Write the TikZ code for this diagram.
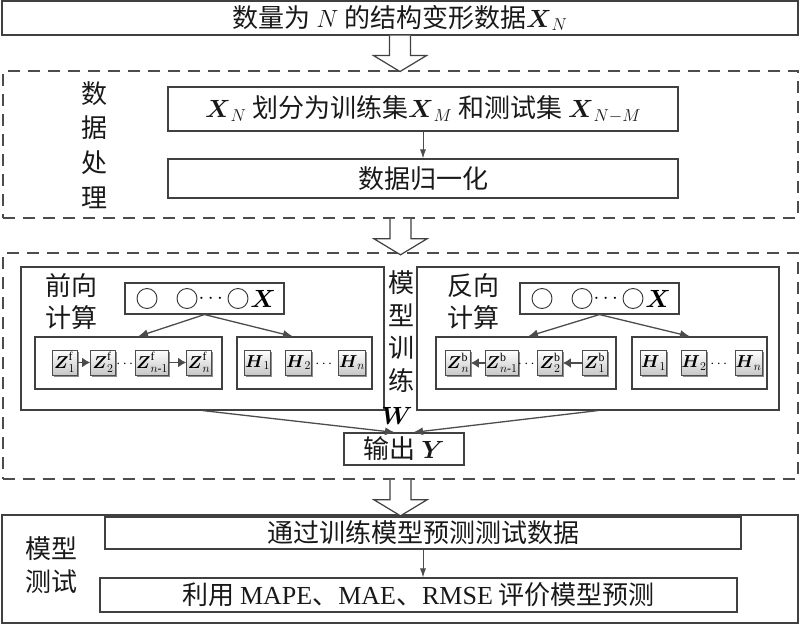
\documentclass[tikz,border=0pt]{standalone}
\usepackage{amsmath,amssymb}
\usepackage{fontspec}
\setmainfont{Liberation Serif}
\newfontfamily\zh{Noto Sans CJK SC}
\usetikzlibrary{positioning, arrows.meta, shadows}
\tikzset{
x=1pt, y=-1pt, % image pixels, y going down
procbox/.style={rectangle, draw=black!75, line width=1.1pt, inner sep=0pt, text=black!90, font=\zh\fontsize{26}{34}\selectfont},
dashgroup/.style={rectangle, draw=black!70, line width=1.6pt, dash pattern=on 12pt off 8pt, inner sep=0pt},
cell/.style={rectangle, draw=black!70, line width=0.9pt, minimum size=25pt, inner sep=0.5pt, top color=white, bottom color=black!22, drop shadow={shadow xshift=1.6pt, shadow yshift=-1.6pt, fill=black!45, opacity=1}, font=\fontsize{17}{17}\selectfont},
ring/.style={circle, draw=black!80, line width=0.9pt, minimum size=20pt, inner sep=0pt},
sidetext/.style={align=center, inner sep=0pt, text=black!90},
flowarrow/.style={-{Latex[length=10pt,width=8pt]}, draw=black!70, line width=1.3pt},
linkarrow/.style={-{Latex[length=8pt,width=10pt]}, draw=black!70, line width=1.3pt},
thinarrow/.style={-{Latex[length=9pt,width=6pt]}, draw=black!70, line width=0.9pt},
bigarrow/.pic={\draw[draw=black!75, line width=1.2pt, fill=white] (-10.5,0) -- (-10.5,20) -- (-26.5,20) -- (0,36) -- (26.5,20) -- (10.5,20) -- (10.5,0);},
}

\begin{document}
\begin{tikzpicture}
\useasboundingbox (0,0) rectangle (800,624);

% data
\node[procbox, minimum width=796, minimum height=34] (data) at (400,18) {数量为 $N$ 的结构变形数据$\boldsymbol{X}_N$};

% data processing
\node[dashgroup, minimum width=795, minimum height=147] (prep) at (400.5,144.5) {};
\node[sidetext, font=\zh\fontsize{26}{34.7}\selectfont] (prepname) at (94.5,145) {数\\据\\处\\理};
\node[procbox, minimum width=510, minimum height=44] (split) at (423,109) {$\boldsymbol{X}_N$ 划分为训练集$\boldsymbol{X}_M$ 和测试集 $\boldsymbol{X}_{N-M}$};
\node[procbox, minimum width=510, minimum height=39] (norm) at (423,178.5) {数据归一化};
\draw[thinarrow] (split) -- (norm);

\pic at (data.south) {bigarrow};

% model training
\node[dashgroup, minimum width=795, minimum height=226] (train) at (400.5,366) {};
\pic at (prep.south) {bigarrow};
\node[sidetext, font=\zh\fontsize{26}{32.5}\selectfont] (trainname) at (401.5,331.5) {模\\型\\训\\练};

\node[procbox, minimum width=363, minimum height=143] (fwd) at (202.5,338.5) {};
\node[procbox, minimum width=362, minimum height=143] (bwd) at (598,338.5) {};
\node[sidetext, font=\zh\fontsize{26}{32}\selectfont] (fwdname) at (71,302) {前向\\计算};
\node[sidetext, font=\zh\fontsize{26}{32}\selectfont] (bwdname) at (473.5,302) {反向\\计算};

% inputs
\node[procbox, minimum width=159, minimum height=31] (fx) at (204.5,298.5) {};
\node[ring] (fx1) at (147,298.5) {};
\node[ring] (fx2) at (187,298.5) {};
\node[ring] (fx3) at (238,298.5) {};
\node[font=\fontsize{22}{22}\selectfont, inner sep=0pt] (fxdots) at (212.5,299) {$\cdots$};
\node[font=\fontsize{25}{25}\selectfont, inner sep=0pt] (fxname) at (263,298.5) {$\boldsymbol{X}$};

\node[procbox, minimum width=159, minimum height=31] (bx) at (599.5,298.5) {};
\node[ring] (bx1) at (542,298.5) {};
\node[ring] (bx2) at (582,298.5) {};
\node[ring] (bx3) at (633,298.5) {};
\node[font=\fontsize{22}{22}\selectfont, inner sep=0pt] (bxdots) at (607.5,299) {$\cdots$};
\node[font=\fontsize{25}{25}\selectfont, inner sep=0pt] (bxname) at (658,298.5) {$\boldsymbol{X}$};

% hidden states
\node[procbox, minimum width=187, minimum height=52] (zf) at (128.5,363) {};
\node[procbox, minimum width=135, minimum height=52] (hf) at (304.5,363) {};
\node[procbox, minimum width=180, minimum height=52] (zb) at (526,363) {};
\node[procbox, minimum width=135, minimum height=52] (hb) at (699.5,363) {};

\node[cell] (zf1) at (64.5,362.5) {$\boldsymbol{Z}^{\mathrm{f}}_1$};
\node[cell] (zf2) at (103,362.5) {$\boldsymbol{Z}^{\mathrm{f}}_2$};
\node[cell] (zfm) at (152,362.5) {$\boldsymbol{Z}^{\mathrm{f}}_{n\text{-}1}$};
\node[cell] (zfn) at (199,362.5) {$\boldsymbol{Z}^{\mathrm{f}}_n$};
\node[font=\fontsize{15}{15}\selectfont, inner sep=0pt] (zfdots) at (126,364) {$\cdots$};
\node[cell] (hf1) at (257.5,362.5) {$\boldsymbol{H}_1$};
\node[cell] (hf2) at (298.5,362.5) {$\boldsymbol{H}_2$};
\node[cell] (hfn) at (352,362.5) {$\boldsymbol{H}_n$};
\node[font=\fontsize{15}{15}\selectfont, inner sep=0pt] (hfdots) at (325,364) {$\cdots$};

\node[cell] (zbn) at (458,363) {$\boldsymbol{Z}^{\mathrm{b}}_n$};
\node[cell] (zbm) at (501.5,363) {$\boldsymbol{Z}^{\mathrm{b}}_{n\text{-}1}$};
\node[cell] (zb2) at (550,363) {$\boldsymbol{Z}^{\mathrm{b}}_2$};
\node[cell] (zb1) at (594.5,363) {$\boldsymbol{Z}^{\mathrm{b}}_1$};
\node[font=\fontsize{15}{15}\selectfont, inner sep=0pt] (zbdots) at (527.5,364.5) {$\cdots$};
\node[cell] (hb1) at (653.5,363) {$\boldsymbol{H}_1$};
\node[cell] (hb2) at (694,363) {$\boldsymbol{H}_2$};
\node[cell] (hbn) at (748.5,363) {$\boldsymbol{H}_n$};
\node[font=\fontsize{15}{15}\selectfont, inner sep=0pt] (hbdots) at (720,364.5) {$\cdots$};

\draw[linkarrow] (zf1) -- (zf2);
\draw[linkarrow] (zfm) -- (zfn);
\draw[linkarrow] (zbm) -- (zbn);
\draw[linkarrow] (zb1) -- (zb2);

\draw[flowarrow] (fx.south) -- ([xshift=9.5pt]zf.north);
\draw[flowarrow] (fx.south) -- ([xshift=-11.5pt]hf.north);
\draw[flowarrow] (bx.south) -- ([xshift=2pt]zb.north);
\draw[flowarrow] (bx.south) -- ([xshift=-9.5pt]hb.north);

% output
\node[procbox, minimum width=120, minimum height=32] (out) at (404,449) {输出 $\boldsymbol{Y}$};
\node[font=\fontsize{26}{26}\selectfont, inner sep=0pt] (wname) at (397,416) {$\boldsymbol{W}$};
\draw[flowarrow] (fwd.south) -- ([xshift=-9pt]out.north);
\draw[flowarrow] (bwd.south) -- ([xshift=9pt]out.north);

% model test
\node[procbox, minimum width=796, minimum height=108] (test) at (400,569) {};
\pic at (train.south) {bigarrow};
\node[sidetext, font=\zh\fontsize{26}{33}\selectfont] (testname) at (51.5,565) {模型\\测试};
\node[procbox, minimum width=636, minimum height=32] (predict) at (423,533) {通过训练模型预测测试数据};
\node[procbox, minimum width=637, minimum height=34] (assess) at (418.5,595) {利用 {\rmfamily MAPE}、{\rmfamily MAE}、{\rmfamily RMSE} 评价模型预测};
\draw[thinarrow] (predict.south) -- (predict.south |- assess.north);

\end{tikzpicture}
\end{document}
